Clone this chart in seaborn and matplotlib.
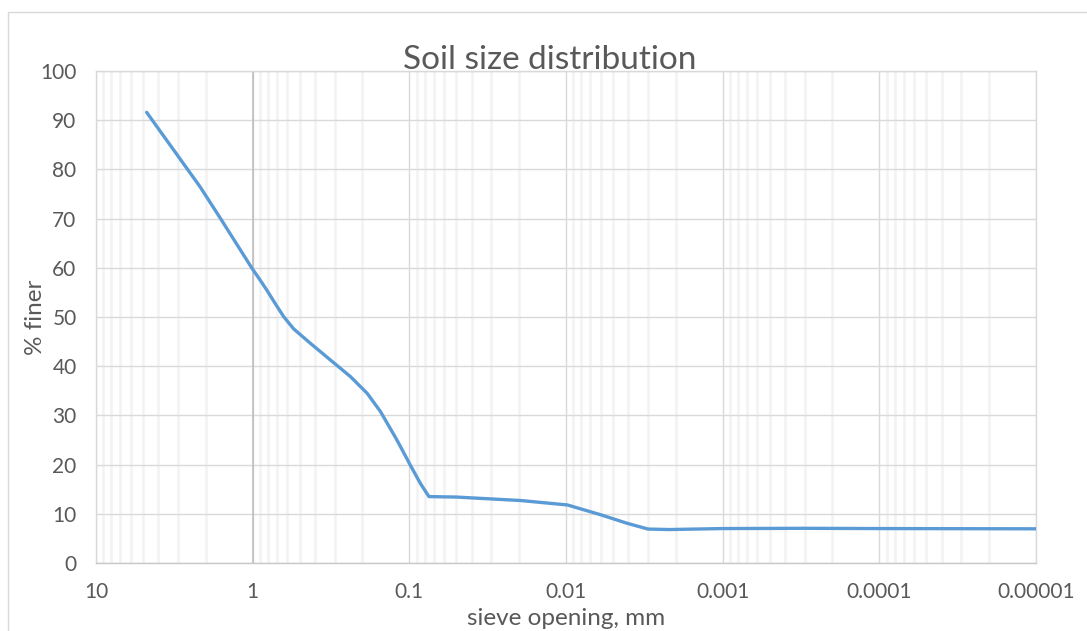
import matplotlib

matplotlib.use("Agg")
import matplotlib.pyplot as plt
import pandas as pd
import seaborn as sns
from matplotlib.patches import Rectangle
from matplotlib.ticker import FixedLocator, NullFormatter

# Values (sieve opening in mm, % finer)
sieve_mm = [4.75, 2.63, 2.17, 1.61, 1.01, 0.9, 0.81, 0.72, 0.635, 0.548,
            0.43, 0.32, 0.238, 0.186, 0.153, 0.12, 0.0986, 0.0851, 0.075,
            0.05, 0.0195, 0.0098, 0.006, 0.0041, 0.003, 0.0022, 0.001,
            0.0003, 0.0001, 0.00001]
pct_finer = [91.6, 80.2, 76.5, 70.1, 59.9, 57.6, 55.4, 52.8, 50.1, 47.6,
             44.7, 41.3, 37.9, 34.5, 30.8, 25.0, 19.9, 16.2, 13.5,
             13.4, 12.7, 11.8, 9.8, 8.1, 6.9, 6.8, 7.0,
             7.05, 7.0, 6.95]

x_ticks = [10, 1, 0.1, 0.01, 0.001, 0.0001, 0.00001]
x_tick_labels = ["10", "1", "0.1", "0.01", "0.001", "0.0001", "0.00001"]
y_ticks = list(range(0, 101, 10))

TEXT = "#595959"
LINE = "#5B9BD5"

sns.set_theme(style="white")
plt.rcParams["font.family"] = ["Lato", "DejaVu Sans"]

df = pd.DataFrame({"sieve": sieve_mm, "finer": pct_finer})

fig = plt.figure(figsize=(10.87, 6.31), dpi=100)
ax = fig.add_axes([96 / 1087, 68 / 631, 940 / 1087, 492 / 631])

# outer chart frame
fig.patches.append(Rectangle((8 / 1087, -0.05), 1.1, (631 - 12) / 631 + 0.05,
                             transform=fig.transFigure, fill=False,
                             edgecolor="#d9d9d9", linewidth=1.0, zorder=0))

ax.set_xscale("log")
ax.set_xlim(10, 0.00001)
ax.set_ylim(0, 100)

minor = [m * 10.0 ** e for e in range(-5, 1) for m in range(2, 10)]
ax.xaxis.set_major_locator(FixedLocator(x_ticks))
ax.xaxis.set_minor_locator(FixedLocator(minor))
ax.xaxis.set_minor_formatter(NullFormatter())
ax.set_xticklabels(x_tick_labels)
ax.set_yticks(y_ticks)

ax.grid(which="minor", axis="x", color="#f2f2f2", linewidth=1.8)
ax.grid(which="major", axis="x", color="#d9d9d9", linewidth=1.0)
ax.grid(which="major", axis="y", color="#d9d9d9", linewidth=1.0)
ax.set_axisbelow(True)
# value axis crosses at 1 (Excel log-axis default)
ax.axvline(1, color="#bfbfbf", linewidth=1.2, zorder=1)

sns.lineplot(data=df, x="sieve", y="finer", sort=False, color=LINE,
             linewidth=2.4, ax=ax, solid_capstyle="round",
             solid_joinstyle="round", zorder=3)

for side, sp in ax.spines.items():
    sp.set_color("#d9d9d9")
    sp.set_linewidth(1.0)
ax.spines["bottom"].set_color("#c8c8c8")

ax.tick_params(axis="both", which="both", length=0, labelsize=15,
               labelcolor=TEXT)
ax.tick_params(axis="x", pad=14)
ax.tick_params(axis="y", pad=14)

ax.set_xlabel("sieve opening, mm", fontsize=17.5, color=TEXT, labelpad=4)
ax.set_ylabel("% finer", fontsize=17.5, color=TEXT, labelpad=-4)
fig.text(550 / 1087, (631 - 69) / 631, "Soil size distribution",
         fontsize=24, color=TEXT, ha="center", va="baseline")

fig.savefig("out.png", dpi=100)
